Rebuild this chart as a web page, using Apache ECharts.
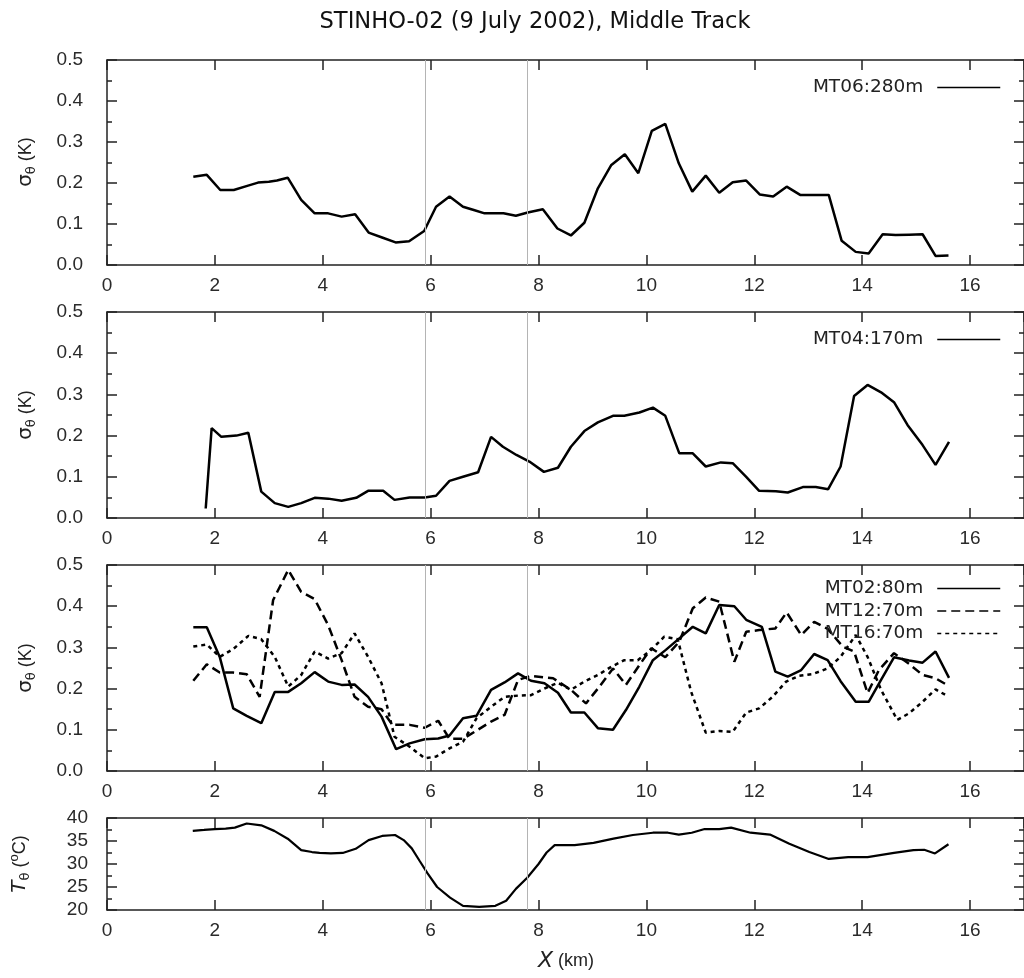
<!DOCTYPE html>
<html><head><meta charset="utf-8">
<script src="https://cdn.jsdelivr.net/npm/echarts@6/dist/echarts.min.js"></script>
<style>html,body{margin:0;padding:0;background:#fff}#c{width:1024px;height:978px}</style>
</head><body><div id="c"></div>
<script>
// ---------- data ----------
const titleText = 'STINHO-02 (9 July 2002), Middle Track';
const refLinesKm = [5.9, 7.79];

const mt06X = [1.6,1.85,2.1,2.35,2.6,2.8,3.0,3.15,3.35,3.6,3.85,4.1,4.35,4.6,4.85,5.1,5.35,5.6,5.88,6.1,6.35,6.6,6.8,7.0,7.35,7.58,7.8,8.08,8.35,8.6,8.85,9.1,9.35,9.6,9.85,10.1,10.35,10.6,10.85,11.1,11.35,11.6,11.85,12.1,12.35,12.6,12.85,13.38,13.62,13.88,14.12,14.38,14.62,14.87,15.12,15.36,15.6];
const mt06Y = [.215,.22,.183,.183,.193,.201,.203,.206,.213,.159,.126,.126,.118,.124,.079,.067,.055,.058,.083,.142,.167,.142,.134,.126,.126,.12,.128,.136,.089,.072,.103,.187,.244,.27,.224,.327,.344,.248,.179,.218,.176,.202,.206,.172,.167,.191,.171,.171,.059,.032,.028,.075,.073,.074,.075,.022,.023];

const mt04X = [1.83,1.94,2.12,2.4,2.62,2.86,3.11,3.36,3.6,3.85,4.1,4.35,4.62,4.84,5.12,5.33,5.61,5.89,6.1,6.35,6.6,6.88,7.12,7.34,7.59,7.83,8.1,8.36,8.6,8.85,9.1,9.38,9.59,9.87,10.12,10.35,10.61,10.86,11.1,11.38,11.6,11.85,12.09,12.4,12.62,12.9,13.14,13.37,13.6,13.85,14.1,14.35,14.59,14.84,15.12,15.36,15.61];
const mt04Y = [.023,.218,.197,.2,.207,.064,.036,.027,.036,.049,.047,.042,.049,.066,.066,.044,.05,.05,.054,.09,.1,.111,.197,.173,.153,.137,.112,.122,.173,.211,.232,.248,.248,.256,.268,.248,.157,.157,.125,.135,.133,.1,.066,.065,.062,.075,.075,.07,.125,.296,.323,.305,.281,.226,.177,.129,.185];

const mt02X = [1.6,1.85,2.09,2.34,2.59,2.86,3.11,3.36,3.6,3.85,4.1,4.35,4.59,4.84,5.09,5.36,5.61,5.89,6.14,6.35,6.6,6.85,7.12,7.37,7.62,7.86,8.11,8.36,8.6,8.85,9.1,9.38,9.62,9.87,10.12,10.36,10.61,10.86,11.1,11.35,11.63,11.85,12.14,12.39,12.62,12.87,13.11,13.36,13.6,13.88,14.12,14.35,14.59,14.87,15.12,15.36,15.61];
const mt02Y = [.349,.349,.277,.152,.134,.116,.192,.192,.213,.24,.217,.209,.21,.18,.132,.053,.067,.077,.079,.086,.128,.134,.197,.215,.237,.219,.213,.19,.142,.142,.104,.1,.148,.205,.269,.294,.322,.35,.334,.403,.4,.367,.35,.241,.229,.245,.284,.269,.218,.168,.168,.221,.276,.268,.263,.29,.226];

const mt12X = [1.6,1.85,2.09,2.34,2.59,2.83,3.08,3.36,3.6,3.85,4.1,4.35,4.59,4.84,5.09,5.29,5.61,5.89,6.14,6.35,6.6,6.85,7.12,7.37,7.62,7.86,8.27,8.6,8.88,9.13,9.38,9.62,9.87,10.09,10.35,10.61,10.86,11.1,11.35,11.63,11.85,12.09,12.39,12.6,12.87,13.11,13.36,13.64,13.85,14.1,14.31,14.59,14.87,15.12,15.36,15.61];
const mt12Y = [.219,.259,.239,.239,.235,.18,.415,.488,.435,.417,.354,.269,.18,.156,.15,.112,.112,.105,.122,.078,.078,.098,.12,.136,.221,.231,.225,.197,.164,.205,.249,.209,.257,.298,.276,.314,.395,.421,.411,.265,.338,.342,.346,.385,.33,.362,.345,.302,.29,.189,.245,.286,.26,.233,.225,.206];

const mt16X = [1.6,1.85,2.09,2.34,2.62,2.86,3.11,3.36,3.6,3.85,4.1,4.35,4.59,4.84,5.09,5.33,5.61,5.89,6.1,6.35,6.6,6.85,7.12,7.37,7.62,7.86,8.14,8.36,8.6,8.85,9.1,9.35,9.59,9.84,10.09,10.33,10.58,10.83,11.1,11.35,11.6,11.85,12.09,12.34,12.59,12.83,13.08,13.36,13.6,13.88,14.1,14.35,14.65,14.87,15.12,15.36,15.58];
const mt16Y = [.302,.307,.277,.296,.328,.32,.277,.205,.233,.29,.273,.286,.334,.277,.213,.083,.059,.031,.035,.055,.071,.128,.156,.18,.183,.184,.202,.214,.197,.217,.233,.253,.269,.269,.294,.326,.32,.192,.093,.097,.095,.142,.152,.18,.217,.231,.235,.249,.277,.33,.277,.197,.124,.14,.168,.198,.182];

const tX = [1.59,1.8,2.0,2.2,2.37,2.59,2.86,3.1,3.35,3.6,3.8,3.94,4.15,4.37,4.61,4.85,5.1,5.34,5.5,5.65,5.8,5.94,6.12,6.36,6.6,6.9,7.2,7.4,7.58,7.79,8.0,8.15,8.3,8.67,9.02,9.39,9.75,10.12,10.4,10.6,10.84,11.08,11.35,11.57,11.93,12.29,12.65,13.02,13.38,13.74,14.1,14.59,14.95,15.15,15.35,15.6];
const tY = [37.2,37.4,37.6,37.7,37.9,38.8,38.4,37.2,35.5,33.0,32.6,32.4,32.3,32.4,33.3,35.2,36.1,36.3,35.2,33.4,30.6,28.0,25.0,22.7,20.9,20.7,20.9,22.0,24.6,27.0,30.0,32.5,34.1,34.1,34.6,35.5,36.3,36.8,36.8,36.4,36.8,37.6,37.6,37.9,36.8,36.4,34.4,32.6,31.1,31.5,31.5,32.4,33.0,33.1,32.3,34.3];

// ---------- layout ----------
const zip = (xs, ys) => xs.map((x, i) => [x, ys[i]]);
const INK = '#222';
const panels = [
  {top: 60, height: 205, min: 0, max: 0.5, interval: 0.1, dec: 1},
  {top: 312, height: 206, min: 0, max: 0.5, interval: 0.1, dec: 1},
  {top: 565, height: 206, min: 0, max: 0.5, interval: 0.1, dec: 1},
  {top: 818, height: 92, min: 20, max: 40, interval: 5, dec: 0}
];
const grid = panels.map(p => ({left: 107, width: 918, top: p.top, height: p.height}));
const axLine = {show: true, onZero: false, lineStyle: {color: INK, width: 1.5}};
const tickStyle = {color: INK, width: 1.5};
const lblFont = {fontFamily: 'Liberation Sans', fontSize: 19, color: '#2a2a2a'};
const xAxis = [], yAxis = [];
panels.forEach((p, i) => {
  ['bottom', 'top'].forEach(pos => xAxis.push({
    type: 'value', gridIndex: i, position: pos, min: 0, max: 17, interval: 2,
    axisLine: axLine,
    axisTick: {show: true, inside: true, length: 10, lineStyle: tickStyle},
    axisLabel: Object.assign({show: pos === 'bottom', margin: 11, showMaxLabel: false}, lblFont),
    splitLine: {show: false}
  }));
  ['left', 'right'].forEach(pos => yAxis.push({
    type: 'value', gridIndex: i, position: pos, min: p.min, max: p.max, interval: p.interval,
    axisLine: axLine,
    axisTick: {show: true, inside: true, length: 10, lineStyle: tickStyle},
    minorTick: {show: true, splitNumber: 2, length: 5, lineStyle: tickStyle},
    axisLabel: Object.assign({show: pos === 'left', margin: i === 3 ? 19 : 24,
      formatter: v => v.toFixed(p.dec)}, lblFont),
    splitLine: {show: false}, minorSplitLine: {show: false}
  }));
});

const refSeries = panels.map((p, i) => ({
  type: 'line', name: 'ref' + i, xAxisIndex: 2 * i, yAxisIndex: 2 * i, data: [], z: 1,
  markLine: {silent: true, symbol: ['none', 'none'], animation: false, label: {show: false},
    lineStyle: {color: '#b4b4b4', width: 1, type: 'solid'},
    data: refLinesKm.map(v => ({xAxis: v}))}
}));
const mk = (name, xs, ys, idx, type, width) => ({
  type: 'line', name, xAxisIndex: 2 * idx, yAxisIndex: 2 * idx, data: zip(xs, ys),
  symbol: 'none', showSymbol: false, z: 3, animation: false,
  lineStyle: {color: '#000', width: width || 2.5, type: type || 'solid'},
  itemStyle: {color: '#000'}
});
const series = refSeries.concat([
  mk('MT06:280m', mt06X, mt06Y, 0),
  mk('MT04:170m', mt04X, mt04Y, 1),
  mk('MT02:80m', mt02X, mt02Y, 2),
  mk('MT12:70m', mt12X, mt12Y, 2, [9, 5]),
  mk('MT16:70m', mt16X, mt16Y, 2, [4, 4]),
  mk('T', tX, tY, 3, 'solid', 2.2)
]);
const legendBase = {
  align: 'right', itemWidth: 63, itemHeight: 14, right: 18, selectedMode: false,
  textStyle: {fontFamily: 'DejaVu Sans', fontSize: 18.5, color: INK, padding: [0, 9, 0, 0]},
  lineStyle: {width: 1.5}, itemStyle: {opacity: 0}
};
const legend = [
  Object.assign({}, legendBase, {data: ['MT06:280m'], top: 73}),
  Object.assign({}, legendBase, {data: ['MT04:170m'], top: 325}),
  Object.assign({}, legendBase, {data: ['MT02:80m', 'MT12:70m', 'MT16:70m'], top: 574, orient: 'vertical', itemGap: 3.5})
];
const sigRich = {
  g: {fontFamily: 'DejaVu Sans', fontSize: 20, lineHeight: 24, fill: INK},
  sub: {fontFamily: 'DejaVu Sans', fontSize: 13, lineHeight: 13, verticalAlign: 'bottom', fill: INK},
  p: {fontFamily: 'Liberation Sans', fontSize: 18, lineHeight: 24, fill: INK}
};
const yName = (cy) => ({type: 'text', x: 26, y: cy, rotation: Math.PI / 2, silent: true,
  style: {text: '{g|σ}{sub|θ}{p| (K)}', rich: sigRich, align: 'center', verticalAlign: 'middle'}});
const graphic = [
  {type: 'text', x: 535, y: 22, silent: true,
    style: {text: titleText, font: '22.6px "DejaVu Sans"', fill: '#111', align: 'center', verticalAlign: 'middle'}},
  yName(162), yName(415), yName(668),
  {type: 'text', x: 20, y: 864, rotation: Math.PI / 2, silent: true,
    style: {text: '{ti|T}{sub|θ}{p| (}{sup|o}{p|C)}', align: 'center', verticalAlign: 'middle',
      rich: {
        ti: {fontFamily: 'DejaVu Sans', fontStyle: 'italic', fontSize: 20, lineHeight: 24, fill: INK},
        sub: sigRich.sub,
        p: sigRich.p,
        sup: {fontFamily: 'Liberation Sans', fontSize: 13, lineHeight: 13, verticalAlign: 'top', fill: INK}
      }}},
  {type: 'text', x: 566, y: 961, silent: true,
    style: {text: '{xi|X}{p| (km)}', align: 'center', verticalAlign: 'middle',
      rich: {xi: {fontFamily: 'DejaVu Sans', fontStyle: 'italic', fontSize: 22, lineHeight: 26, fill: INK},
        p: {fontFamily: 'Liberation Sans', fontSize: 18, lineHeight: 26, fill: INK}}}}
];

const chart = echarts.init(document.getElementById('c'), null, {renderer: 'canvas'});
chart.setOption({animation: false, backgroundColor: '#fff', grid, xAxis, yAxis, series, legend, graphic});
</script></body></html>
